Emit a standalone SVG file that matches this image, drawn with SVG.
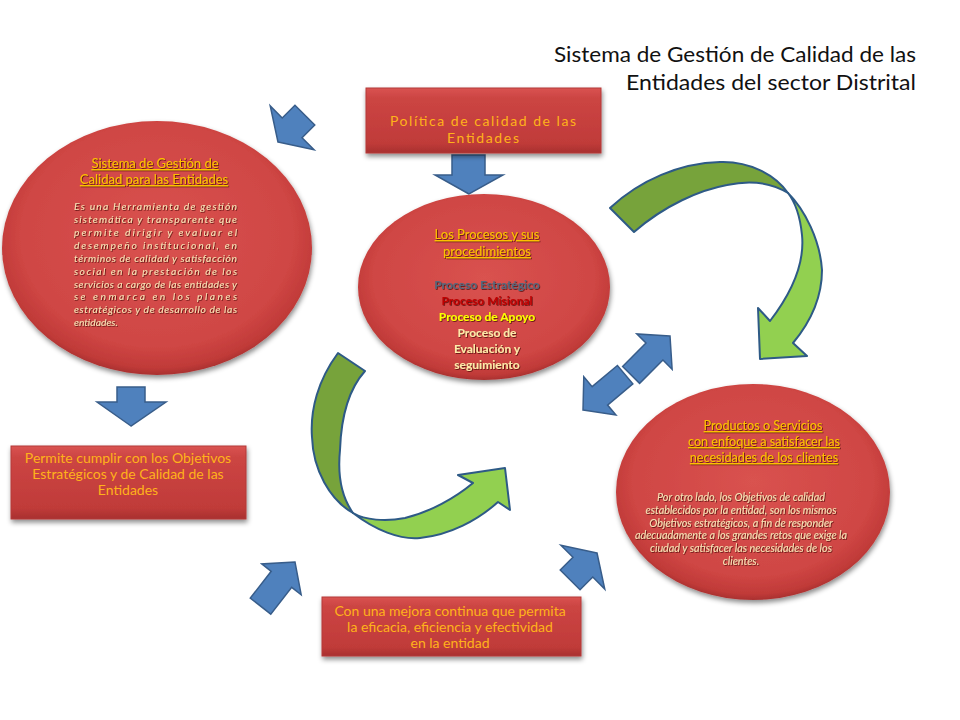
<svg xmlns="http://www.w3.org/2000/svg" width="960" height="720" viewBox="0 0 960 720">
<defs>
<radialGradient id="ell" cx="50%" cy="45%" r="55%">
<stop offset="0" stop-color="#D9524F"/>
<stop offset="0.8" stop-color="#CF4644"/>
<stop offset="0.95" stop-color="#C03A38"/>
<stop offset="1" stop-color="#A93130"/>
</radialGradient>
<linearGradient id="box" x1="0" y1="0" x2="0" y2="1">
<stop offset="0" stop-color="#DA5452"/>
<stop offset="0.15" stop-color="#CC4543"/>
<stop offset="0.85" stop-color="#C03B39"/>
<stop offset="1" stop-color="#A8302F"/>
</linearGradient>
<filter id="sh" x="-10%" y="-10%" width="125%" height="130%">
<feDropShadow dx="1" dy="3" stdDeviation="2.5" flood-color="#000" flood-opacity="0.45"/>
</filter>
<filter id="ts" x="-5%" y="-20%" width="110%" height="150%">
<feDropShadow dx="0.8" dy="0.8" stdDeviation="0.4" flood-color="#3a0000" flood-opacity="0.8"/>
</filter>
<polygon id="blk" points="0,0 -20,-31 -20,-14 -38,-14 -38,14 -20,14 -20,31"/>
</defs>
<style>
.ell{fill:url(#ell);filter:url(#sh);}
.box{fill:url(#box);stroke:#B33A38;stroke-width:1;filter:url(#sh);}
.blue{fill:#4F81BD;stroke:#385D8A;stroke-width:1.5;stroke-linejoin:miter;}
.gd{fill:#77A33B;stroke:#2E5A86;stroke-width:2;stroke-linejoin:round;}
.gl{fill:#92D050;stroke:#2E5A86;stroke-width:2;stroke-linejoin:round;}
.t{font-family:Lato,"Open Sans","Liberation Sans",sans-serif;}
.title{font-size:20.5px;fill:#111;text-anchor:end;}
.bx{font-size:14px;fill:#FFB21A;text-anchor:middle;}
.hd{font-size:13px;fill:#FFC000;text-anchor:middle;text-decoration:underline;filter:url(#ts);}
.bd{font-size:10.3px;fill:#F8E2B4;font-style:italic;filter:url(#ts);}
.pr{font-size:12px;font-weight:bold;text-anchor:middle;filter:url(#ts);}
</style>
<rect width="960" height="720" fill="#fff"/>

<g id="title" class="t">
<text class="title" x="916" y="62" textLength="362" lengthAdjust="spacingAndGlyphs">Sistema de Gestión de Calidad de las</text>
<text class="title" x="916" y="90" textLength="290" lengthAdjust="spacingAndGlyphs">Entidades  del sector Distrital</text>
</g>

<g id="connectors">
<path class="gd" d="M610,208 C640,180 680,163 720,162 C750,161 775,175 788,193 C770,182 750,180 727,185 C700,190 665,205 634,232 Z"/>
<path class="gl" d="M788,193 C805,210 820,240 822,270 C822,300 808,325 793,343 L807,356 L760,359 L758,308 L770,321 C790,295 805,265 802,235 C800,215 795,202 788,193 Z"/>
<path class="gd" d="M338,353 C318,380 310,410 312,437 C313,470 330,500 353,513 C340,495 338,470 340,450 C341,420 348,390 365,371 Z"/>
<path class="gl" d="M353,513 C375,530 400,540 420,538 C450,535 478,520 498,502 L510,510 L505,468 L458,475 L473,483 C455,498 430,512 405,518 C385,522 365,520 353,513 Z"/>
<use href="#blk" class="blue" transform="translate(278,142) rotate(135)"/>
<polygon class="blue" points="469,194 435,175 452,175 452,155 485,155 485,175 503,175"/>
<polygon class="blue" points="131,426 97,402 117,402 117,387 145,387 145,402 166,402"/>
<polygon class="blue" transform="translate(670,336) rotate(-45)" points="0,0 -22,-25 -22,-12 -55,-12 -55,12 -22,12 -22,25"/>
<polygon class="blue" transform="translate(583,410) rotate(140)" points="0,0 -22,-25 -22,-12 -55,-12 -55,12 -22,12 -22,25"/>
<polygon class="blue" transform="translate(295,562) rotate(-52)" points="0,0 -22,-25 -22,-13 -56,-13 -56,13 -22,13 -22,25"/>
<use href="#blk" class="blue" transform="translate(597,553) rotate(-45)"/>
</g>

<g id="politica" class="t">
<rect class="box" x="366" y="88" width="235" height="65"/>
<text class="bx" x="483" y="126" textLength="186" lengthAdjust="spacing">Política de calidad de las</text>
<text class="bx" x="483" y="143" textLength="72" lengthAdjust="spacing">Entidades</text>
</g>

<g id="sgc" class="t">
<ellipse class="ell" cx="157" cy="248" rx="155" ry="127"/>
<text class="hd" x="155" y="168">Sistema de Gestión de</text>
<text class="hd" x="154" y="184">Calidad  para las Entidades</text>
<g class="bd">
<text x="74" y="210" textLength="163" lengthAdjust="spacing">Es una Herramienta de gestión</text>
<text x="74" y="223" textLength="163" lengthAdjust="spacing">sistemática y transparente que</text>
<text x="74" y="236" textLength="163" lengthAdjust="spacing">permite dirigir y evaluar el</text>
<text x="74" y="249" textLength="163" lengthAdjust="spacing">desempeño institucional, en</text>
<text x="74" y="262" textLength="163" lengthAdjust="spacing">términos de calidad  y satisfacción</text>
<text x="74" y="275" textLength="163" lengthAdjust="spacing">social en la prestación de los</text>
<text x="74" y="288" textLength="163" lengthAdjust="spacing">servicios  a cargo de las entidades y</text>
<text x="74" y="300" textLength="163" lengthAdjust="spacing">se enmarca en los planes</text>
<text x="74" y="313" textLength="163" lengthAdjust="spacing">estratégicos  y de desarrollo de las</text>
<text x="74" y="326">entidades.</text>
</g>
</g>

<g id="procesos" class="t">
<ellipse class="ell" cx="484" cy="287" rx="126" ry="93"/>
<text class="hd" x="487" y="239">Los Procesos y sus</text>
<text class="hd" x="487" y="256">procedimientos</text>
<text class="pr" x="487" y="289" fill="#56687C">Proceso Estratégico</text>
<text class="pr" x="487" y="305" fill="#C00000">Proceso Misional</text>
<text class="pr" x="487" y="321" fill="#FFFF00">Proceso de Apoyo</text>
<text class="pr" x="487" y="337" fill="#FFE9A8">Proceso de</text>
<text class="pr" x="487" y="353" fill="#FFE9A8">Evaluación  y</text>
<text class="pr" x="487" y="369" fill="#FFE9A8">seguimiento</text>
</g>

<g id="productos" class="t">
<ellipse class="ell" cx="753" cy="492" rx="137" ry="108"/>
<text class="hd" x="763" y="430" style="font-size:12.6px">Productos o Servicios</text>
<text class="hd" x="764" y="446" style="font-size:12.6px">con enfoque a satisfacer  las</text>
<text class="hd" x="764" y="462" style="font-size:12.6px">necesidades de los clientes</text>
<g class="bd" text-anchor="middle" style="font-size:10.8px">
<text x="741" y="501">Por otro lado, los Objetivos de calidad</text>
<text x="741" y="514">establecidos por la entidad, son los mismos</text>
<text x="741" y="527">Objetivos estratégicos, a fin de responder</text>
<text x="741" y="539">adecuadamente a los grandes retos que exige la</text>
<text x="741" y="552">ciudad y satisfacer las necesidades de los</text>
<text x="741" y="565">clientes.</text>
</g>
</g>

<g id="permite" class="t">
<rect class="box" x="11" y="446" width="235" height="73"/>
<text class="bx" x="128" y="463">Permite cumplir con los Objetivos</text>
<text class="bx" x="128" y="479">Estratégicos y de Calidad de las</text>
<text class="bx" x="128" y="495">Entidades</text>
</g>

<g id="mejora" class="t">
<rect class="box" x="322" y="597" width="259" height="59"/>
<text class="bx" x="450" y="616">Con una mejora continua que permita</text>
<text class="bx" x="450" y="632">la eficacia, eficiencia y efectividad</text>
<text class="bx" x="450" y="648">en la entidad</text>
</g>
</svg>
